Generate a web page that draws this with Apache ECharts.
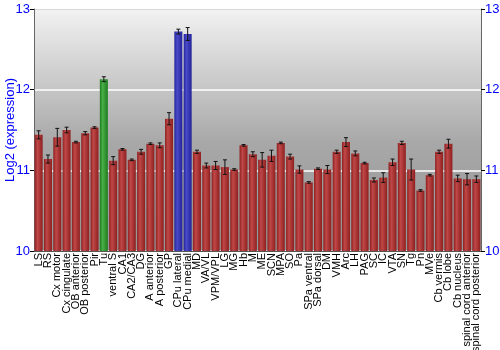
<!DOCTYPE html>
<html><head><meta charset="utf-8">
<script src="https://cdn.jsdelivr.net/npm/echarts@6/dist/echarts.min.js"></script>
<style>html,body{margin:0;padding:0;background:#fff}#c{width:500px;height:350px}</style>
</head><body><div id="c"></div>
<script>
const categories = ["LS","RS","Cx motor","Cx cingulate","OB anterior","OB posterior","Pir","Tu","ventral S","CA1","CA2/CA3","DG","A anterior","A posterior","GP","CPu lateral","CPu medial","MD","VA/VL","VPM/VPL","LG","MG","Hb","M","ME","SCN","MPA","SO","Pa","SPa ventral","SPa dorsal","DM","VMH","Arc","LH","PAG","SC","IC","VTA","SN","Tg","Pn","MVe","Cb vermis","Cb lobe","Cb nucleus","spinal cord anterior","spinal cord posterior"];
const values = [11.44,11.14,11.41,11.50,11.35,11.46,11.53,12.13,11.12,11.26,11.13,11.23,11.33,11.31,11.64,12.72,12.69,11.23,11.06,11.06,11.04,11.01,11.31,11.20,11.13,11.18,11.34,11.17,11.01,10.85,11.02,11.01,11.23,11.35,11.21,11.09,10.88,10.91,11.10,11.34,11.01,10.75,10.94,11.23,11.33,10.90,10.89,10.89];
const errors = [0.05,0.05,0.11,0.035,0.01,0.02,0.01,0.03,0.05,0.01,0.01,0.03,0.01,0.03,0.075,0.03,0.08,0.02,0.03,0.05,0.09,0.01,0.01,0.03,0.09,0.07,0.01,0.03,0.045,0.01,0.01,0.05,0.02,0.055,0.03,0.01,0.025,0.06,0.04,0.02,0.13,0.01,0.01,0.02,0.055,0.04,0.07,0.04];
const groups = ["r","r","r","r","r","r","r","g","r","r","r","r","r","r","r","b","b","r","r","r","r","r","r","r","r","r","r","r","r","r","r","r","r","r","r","r","r","r","r","r","r","r","r","r","r","r","r","r"];
const yTicks = [10,11,12,13];

function grad(c1,c2){return new echarts.graphic.LinearGradient(0,0,1,0,[{offset:0,color:c1},{offset:0.35,color:c2},{offset:1,color:c1}]);}
const fills = {r:grad('#8e1f1f','#c04848'), g:grad('#1f7a1f','#48b048'), b:grad('#23239a','#4a4ac8')};

const chart = echarts.init(document.getElementById('c'), null, {renderer:'canvas'});
const blue = '#0000ff';
chart.setOption({
  animation:false,
  grid:{left:34,right:19,top:9,bottom:99,show:true,borderWidth:0,outerBoundsMode:'none',containLabel:false,
    backgroundColor:new echarts.graphic.LinearGradient(0,0,0,1,[{offset:0,color:'#f2f2f2'},{offset:0.55,color:'#a8a8a8'},{offset:1,color:'#959595'}])},
  xAxis:{type:'category',data:categories,
    axisLine:{show:true,lineStyle:{color:'#555'}},axisTick:{show:false},
    axisLabel:{rotate:90,interval:0,fontSize:11,color:'#000',fontFamily:'Liberation Sans',margin:2}},
  yAxis:[{type:'value',min:yTicks[0],max:yTicks[yTicks.length-1],interval:1,position:'left',
    name:'Log2 (expression)',nameLocation:'middle',nameGap:17,nameMoveOverlap:false,nameTextStyle:{color:blue,fontSize:13,fontFamily:'Liberation Sans'},
    axisLine:{show:true,lineStyle:{color:'#666'}},axisTick:{show:true,length:4,lineStyle:{color:'#000'}},
    axisLabel:{color:blue,fontSize:13,fontFamily:'Liberation Sans',margin:4},
    splitLine:{show:true,lineStyle:{color:'#ffffff',width:1.5}}},
   {type:'value',min:yTicks[0],max:yTicks[yTicks.length-1],interval:1,position:'right',
    axisLine:{show:true,lineStyle:{color:'#666'}},axisTick:{show:true,length:4,lineStyle:{color:'#000'}},
    axisLabel:{color:blue,fontSize:13,fontFamily:'Liberation Sans',margin:4},splitLine:{show:false}}],
  series:[
    {type:'bar',data:values.map((v,i)=>({value:v,itemStyle:{color:fills[groups[i]]}})),barCategoryGap:'14%'},
    {type:'custom',data:values.map((v,i)=>[i,v,errors[i]]),z:5,
     renderItem:function(params,api){
       const x=api.value(0),v=api.value(1),e=api.value(2);
       const hi=api.coord([x,v+e]),lo=api.coord([x,v-e]);
       const w=2;const st={stroke:'#111',lineWidth:1};
       return {type:'group',children:[
         {type:'line',shape:{x1:hi[0],y1:hi[1],x2:lo[0],y2:lo[1]},style:st},
         {type:'line',shape:{x1:hi[0]-w,y1:hi[1],x2:hi[0]+w,y2:hi[1]},style:st},
         {type:'line',shape:{x1:lo[0]-w,y1:lo[1],x2:lo[0]+w,y2:lo[1]},style:st}]};
     }}
  ],
  graphic:[{type:'line',shape:{x1:34,y1:9.5,x2:481,y2:9.5},style:{stroke:'#666',lineWidth:1}}]
});
</script></body></html>
